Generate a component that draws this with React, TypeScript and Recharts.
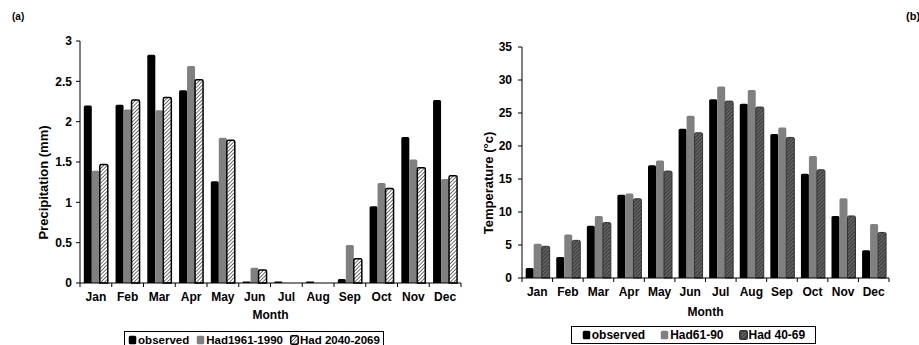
import { BarChart, Bar, XAxis, YAxis, Legend } from 'recharts';

// monthly climate series, (a) precipitation and (b) temperature
const months = ['Jan', 'Feb', 'Mar', 'Apr', 'May', 'Jun', 'Jul', 'Aug', 'Sep', 'Oct', 'Nov', 'Dec'];

const precipObserved = [2.2, 2.21, 2.83, 2.39, 1.26, 0.02, 0.02, 0.02, 0.05, 0.95, 1.81, 2.27];
const precipHad6190 = [1.39, 2.15, 2.14, 2.69, 1.8, 0.19, 0, 0, 0.47, 1.24, 1.53, 1.29];
const precipHad4069 = [1.47, 2.27, 2.3, 2.52, 1.77, 0.16, 0, 0, 0.3, 1.17, 1.43, 1.33];
const precipTicks = [0, 0.5, 1, 1.5, 2, 2.5, 3];

const tempObserved = [1.5, 3.2, 7.9, 12.6, 17.1, 22.6, 27.1, 26.4, 21.8, 15.8, 9.4, 4.2];
const tempHad6190 = [5.2, 6.6, 9.4, 12.8, 17.8, 24.6, 29.0, 28.5, 22.8, 18.5, 12.1, 8.2];
const tempHad4069 = [4.8, 5.7, 8.4, 12.0, 16.2, 22.0, 26.8, 25.9, 21.3, 16.4, 9.4, 6.9];
const tempTicks = [0, 5, 10, 15, 20, 25, 30, 35];

const precipData = months.map((m, i) => ({
  month: m,
  observed: precipObserved[i],
  had6190: precipHad6190[i],
  had4069: precipHad4069[i],
}));

const tempData = months.map((m, i) => ({
  month: m,
  observed: tempObserved[i],
  had6190: tempHad6190[i],
  had4069: tempHad4069[i],
}));

const FONT = '"Liberation Sans", Arial, sans-serif';
const tickStyle = { fill: '#000', fontSize: 12, fontWeight: 700, fontFamily: FONT };
const LABEL_GAP = 9;

// month label plus Excel-style tick marks on the band edges
const MonthTick = (props: any) => {
  const { x, y, payload, index } = props;
  const half = payload?.offset ?? 0;
  const axisY = y - LABEL_GAP;
  return (
    <g>
      <line x1={x - half} y1={axisY} x2={x - half} y2={axisY + 4} stroke="#000" />
      {index === months.length - 1 && <line x1={x + half} y1={axisY} x2={x + half} y2={axisY + 4} stroke="#000" />}
      <text x={x} y={y} dy="0.71em" textAnchor="middle" {...tickStyle}>
        {payload.value}
      </text>
    </g>
  );
};

type LegendItem = { label: string; fill: string; stroke?: string };

function LegendBox({ items, width, gap, fontSize }: { items: LegendItem[]; width: number; gap: number; fontSize: number }) {
  return (
    <div
      style={{
        width,
        height: 18,
        border: '1.5px solid #000',
        boxSizing: 'border-box',
        display: 'flex',
        alignItems: 'center',
        justifyContent: 'center',
        gap,
        whiteSpace: 'nowrap',
        fontFamily: FONT,
        fontSize,
        fontWeight: 700,
        color: '#000',
        background: '#fff',
      }}
    >
      {items.map((it) => (
        <span key={it.label} style={{ display: 'flex', alignItems: 'center' }}>
          <svg width={9} height={10} style={{ marginRight: 1 }}>
            <rect x={0.75} y={0.75} width={7.5} height={8.5} rx={1.5} fill={it.fill} stroke={it.stroke ?? 'none'} strokeWidth={1.5} />
          </svg>
          {it.label}
        </span>
      ))}
    </div>
  );
}

// shared axis pieces: labelled months, value axis, top and right frame lines
function frameAxes(yTicks: number[], yMax: number, yWidth: number, yMargin: number) {
  return [
    <XAxis
      key="months"
      dataKey="month"
      height={30}
      tickSize={0}
      tickMargin={LABEL_GAP}
      tick={<MonthTick />}
      axisLine={{ stroke: '#000' }}
      tickLine={false}
      interval={0}
    />,
    <XAxis key="top" xAxisId="top" orientation="top" dataKey="month" height={0} tick={false} tickLine={false} axisLine={{ stroke: '#000' }} />,
    <YAxis
      key="left"
      width={yWidth}
      domain={[0, yMax]}
      ticks={yTicks}
      tick={tickStyle}
      tickSize={4}
      tickMargin={yMargin}
      tickLine={{ stroke: '#000' }}
      axisLine={{ stroke: '#000' }}
    />,
    <YAxis key="right" yAxisId="right" orientation="right" width={0} tick={false} tickLine={false} axisLine={{ stroke: '#000' }} />,
  ];
}

export default function App() {
  return (
    <div style={{ position: 'absolute', left: 0, top: 0, width: 919, height: 345, background: '#fff', overflow: 'hidden' }}>
      {/* (a) precipitation */}
      <div style={{ position: 'absolute', left: 0, top: 0 }}>
        <BarChart
          width={470}
          height={345}
          data={precipData}
          margin={{ top: 41, right: 9, left: 0, bottom: 32 }}
          barCategoryGap="12%"
          barGap={0}
        >
          <defs>
            <pattern id="hatchA" width="2.6" height="2.6" patternUnits="userSpaceOnUse" patternTransform="rotate(45)">
              <rect width="2.6" height="2.6" fill="#fff" />
              <line x1="0" y1="0" x2="0" y2="2.6" stroke="#000" strokeWidth="1.1" />
            </pattern>
          </defs>
          {frameAxes(precipTicks, 3, 80, 4)}
          <Legend
            layout="horizontal"
            verticalAlign="middle"
            align="center"
            wrapperStyle={{ position: 'absolute', left: 124, top: 331, width: 260 }}
            content={() => (
              <LegendBox
                width={260}
                gap={7}
                fontSize={11.5}
                items={[
                  { label: 'observed', fill: '#000' },
                  { label: 'Had1961-1990', fill: '#808080' },
                  { label: 'Had 2040-2069', fill: 'url(#hatchA)', stroke: '#000' },
                ]}
              />
            )}
          />
          <Bar dataKey="observed" fill="#000" radius={[1.5, 1.5, 0, 0]} isAnimationActive={false} />
          <Bar dataKey="had6190" fill="#808080" radius={[1.5, 1.5, 0, 0]} isAnimationActive={false} />
          <Bar dataKey="had4069" fill="url(#hatchA)" stroke="#000" strokeWidth={1.5} radius={[1.5, 1.5, 0, 0]} isAnimationActive={false} />
        </BarChart>
      </div>

      {/* (b) temperature */}
      <div style={{ position: 'absolute', left: 470, top: 0 }}>
        <BarChart
          width={449}
          height={345}
          data={tempData}
          margin={{ top: 47, right: 30, left: 0, bottom: 37 }}
          barCategoryGap="12%"
          barGap={0}
        >
          <defs>
            <pattern id="hatchB" width="2.6" height="2.6" patternUnits="userSpaceOnUse" patternTransform="rotate(45)">
              <rect width="2.6" height="2.6" fill="#444" />
              <line x1="0" y1="0" x2="0" y2="2.6" stroke="#999" strokeWidth="0.9" />
            </pattern>
          </defs>
          {frameAxes(tempTicks, 35, 52, 6)}
          <Legend
            layout="horizontal"
            verticalAlign="middle"
            align="center"
            wrapperStyle={{ position: 'absolute', left: 101, top: 326, width: 245 }}
            content={() => (
              <LegendBox
                width={245}
                gap={15}
                fontSize={12}
                items={[
                  { label: 'observed', fill: '#000' },
                  { label: 'Had61-90', fill: '#808080' },
                  { label: 'Had 40-69', fill: 'url(#hatchB)', stroke: '#333' },
                ]}
              />
            )}
          />
          <Bar dataKey="observed" fill="#000" radius={[1.5, 1.5, 0, 0]} isAnimationActive={false} />
          <Bar dataKey="had6190" fill="#808080" radius={[1.5, 1.5, 0, 0]} isAnimationActive={false} />
          <Bar dataKey="had4069" fill="url(#hatchB)" stroke="#333" strokeWidth={1} radius={[1.5, 1.5, 0, 0]} isAnimationActive={false} />
        </BarChart>
      </div>

      {/* panel letters and axis titles */}
      <svg width={919} height={345} style={{ position: 'absolute', left: 0, top: 0, pointerEvents: 'none' }}>
        <g fontFamily={FONT} fontWeight={700} fill="#000">
          <text x={12} y={20} fontSize={10}>(a)</text>
          <text x={906} y={20} fontSize={11}>(b)</text>
          <text x={270.5} y={319} fontSize={12} textAnchor="middle">Month</text>
          <text x={705.5} y={316} fontSize={12} textAnchor="middle">Month</text>
          <text transform="translate(48,182.5) rotate(-90)" fontSize={13} textAnchor="middle">Precipitation (mm)</text>
          <text transform="translate(493,183) rotate(-90)" fontSize={13} textAnchor="middle">Temperature (°c)</text>
        </g>
      </svg>
    </div>
  );
}
